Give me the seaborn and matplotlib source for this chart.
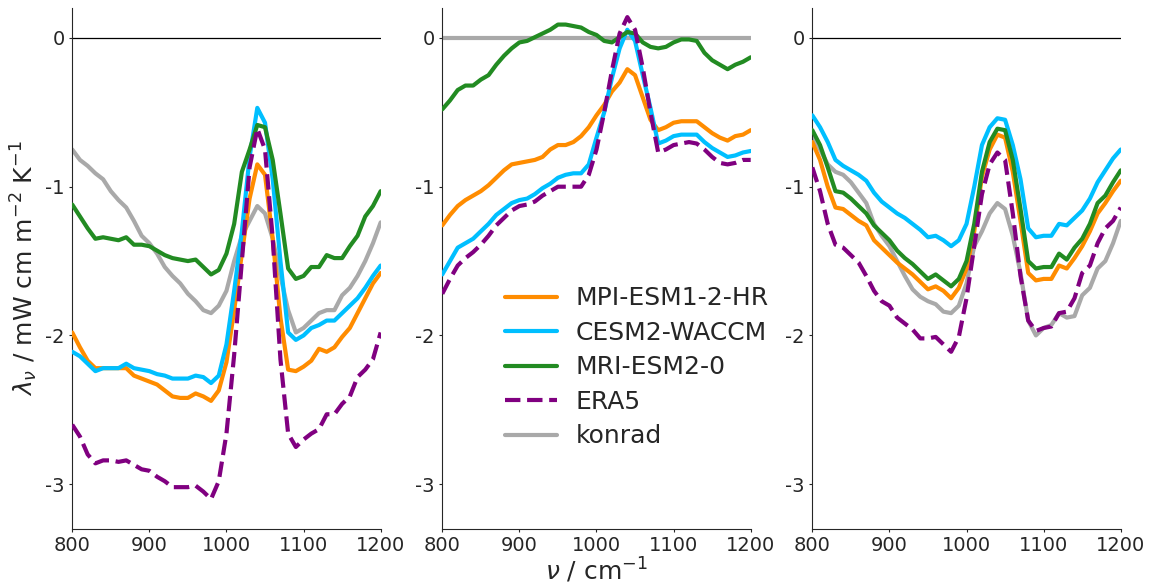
"""Spectral feedback by model, three panels."""

import matplotlib
matplotlib.use("Agg")
import matplotlib.pyplot as plt
import numpy as np
import seaborn as sns

# Wavenumber grid (cm^-1)
wavenumber = np.arange(800, 1201, 10)

# Panel 1
p1_mpi = [-1.98, -2.08, -2.17, -2.22, -2.22, -2.22, -2.22, -2.22, -2.27, -2.29, -2.31,
          -2.33, -2.37, -2.41, -2.42, -2.42, -2.39, -2.41, -2.44, -2.37, -2.18,
          -1.83, -1.45, -1.08, -0.85, -0.92, -1.35, -1.88, -2.23, -2.24, -2.21,
          -2.17, -2.09, -2.11, -2.08, -2.01, -1.95, -1.85, -1.75, -1.65, -1.58]
p1_cesm = [-2.11, -2.14, -2.19, -2.24, -2.22, -2.22, -2.22, -2.19, -2.22, -2.23, -2.24,
           -2.26, -2.27, -2.29, -2.29, -2.29, -2.27, -2.28, -2.32, -2.27, -2.06,
           -1.70, -1.30, -0.80, -0.47, -0.57, -0.95, -1.50, -1.98, -2.03, -2.00,
           -1.95, -1.93, -1.90, -1.90, -1.85, -1.80, -1.75, -1.68, -1.60, -1.53]
p1_mri = [-1.12, -1.20, -1.28, -1.35, -1.34, -1.35, -1.36, -1.34, -1.39, -1.39, -1.40,
          -1.43, -1.46, -1.48, -1.49, -1.50, -1.49, -1.54, -1.59, -1.56, -1.45,
          -1.25, -0.90, -0.75, -0.585, -0.60, -0.82, -1.18, -1.55, -1.62, -1.60,
          -1.54, -1.54, -1.46, -1.48, -1.48, -1.40, -1.33, -1.20, -1.13, -1.03]
p1_era5 = [-2.60, -2.68, -2.80, -2.86, -2.84, -2.84, -2.85, -2.84, -2.87, -2.90, -2.91,
           -2.95, -2.98, -3.02, -3.02, -3.02, -3.01, -3.05, -3.10, -2.98, -2.66,
           -2.13, -1.50, -0.87, -0.61, -0.75, -1.35, -2.16, -2.66, -2.75, -2.70,
           -2.66, -2.63, -2.53, -2.53, -2.46, -2.41, -2.28, -2.23, -2.16, -1.98]
p1_konrad = [-0.75, -0.82, -0.86, -0.91, -0.95, -1.03, -1.09, -1.14, -1.23, -1.33, -1.38,
             -1.45, -1.54, -1.60, -1.65, -1.72, -1.77, -1.83, -1.85, -1.80, -1.70,
             -1.50, -1.33, -1.23, -1.13, -1.18, -1.35, -1.60, -1.83, -1.98, -1.95,
             -1.90, -1.85, -1.83, -1.83, -1.73, -1.68, -1.60, -1.50, -1.38, -1.24]

# Panel 2
p2_mpi = [-1.26, -1.19, -1.13, -1.09, -1.06, -1.03, -0.99, -0.94, -0.89, -0.85, -0.84,
          -0.83, -0.82, -0.80, -0.75, -0.72, -0.72, -0.70, -0.66, -0.60, -0.52,
          -0.45, -0.36, -0.30, -0.21, -0.25, -0.40, -0.55, -0.62, -0.60, -0.57,
          -0.56, -0.56, -0.56, -0.60, -0.64, -0.67, -0.69, -0.66, -0.65, -0.62]
p2_cesm = [-1.59, -1.50, -1.41, -1.38, -1.35, -1.30, -1.25, -1.19, -1.15, -1.11, -1.09,
           -1.08, -1.05, -1.01, -0.98, -0.94, -0.92, -0.91, -0.91, -0.85, -0.67,
           -0.50, -0.27, -0.07, 0.055, -0.02, -0.25, -0.47, -0.71, -0.69, -0.66,
           -0.65, -0.65, -0.65, -0.70, -0.74, -0.77, -0.80, -0.79, -0.77, -0.76]
p2_mri = [-0.48, -0.42, -0.35, -0.32, -0.32, -0.28, -0.25, -0.18, -0.12, -0.07, -0.03,
          -0.02, 0.005, 0.03, 0.055, 0.09, 0.09, 0.08, 0.07, 0.04, 0.02,
          -0.02, -0.03, 0.005, 0.04, 0.03, -0.03, -0.06, -0.07, -0.06, -0.03,
          -0.01, -0.01, -0.02, -0.10, -0.15, -0.18, -0.21, -0.18, -0.16, -0.13]
p2_era5 = [-1.72, -1.62, -1.53, -1.48, -1.44, -1.39, -1.33, -1.26, -1.21, -1.16, -1.13,
           -1.12, -1.10, -1.06, -1.03, -1.00, -1.00, -1.00, -1.00, -0.92, -0.75,
           -0.50, -0.22, 0.03, 0.14, 0.055, -0.20, -0.50, -0.77, -0.75, -0.72,
           -0.71, -0.70, -0.71, -0.75, -0.80, -0.84, -0.85, -0.84, -0.82, -0.82]
p2_konrad = [0.0] * 41

# Panel 3
p3_mpi = [-0.70, -0.82, -1.00, -1.14, -1.15, -1.19, -1.23, -1.26, -1.36, -1.41, -1.46,
          -1.51, -1.55, -1.59, -1.64, -1.69, -1.67, -1.70, -1.75, -1.68, -1.55,
          -1.30, -0.93, -0.75, -0.65, -0.67, -0.90, -1.23, -1.58, -1.63, -1.62,
          -1.62, -1.53, -1.55, -1.48, -1.40, -1.30, -1.18, -1.11, -1.03, -0.96]
p3_cesm = [-0.52, -0.60, -0.70, -0.82, -0.86, -0.89, -0.92, -0.96, -1.04, -1.10, -1.14,
           -1.18, -1.21, -1.25, -1.29, -1.34, -1.33, -1.36, -1.40, -1.36, -1.25,
           -1.00, -0.72, -0.60, -0.54, -0.55, -0.72, -0.95, -1.28, -1.34, -1.33,
           -1.33, -1.25, -1.26, -1.21, -1.16, -1.08, -0.97, -0.89, -0.81, -0.75]
p3_mri = [-0.62, -0.72, -0.87, -1.03, -1.04, -1.08, -1.13, -1.18, -1.26, -1.31, -1.36,
          -1.43, -1.48, -1.52, -1.57, -1.62, -1.59, -1.63, -1.67, -1.62, -1.50,
          -1.25, -0.90, -0.70, -0.61, -0.62, -0.82, -1.15, -1.50, -1.55, -1.54,
          -1.54, -1.45, -1.49, -1.41, -1.35, -1.25, -1.11, -1.06, -0.97, -0.89]
p3_era5 = [-0.87, -1.03, -1.25, -1.39, -1.41, -1.46, -1.51, -1.60, -1.70, -1.77, -1.80,
           -1.88, -1.92, -1.96, -2.02, -2.02, -2.01, -2.06, -2.11, -2.01, -1.75,
           -1.40, -1.05, -0.85, -0.77, -0.82, -1.18, -1.60, -1.90, -1.97, -1.95,
           -1.94, -1.85, -1.84, -1.75, -1.58, -1.53, -1.38, -1.28, -1.23, -1.14]
p3_konrad = [-0.65, -0.75, -0.85, -0.90, -0.92, -0.97, -1.04, -1.11, -1.25, -1.33, -1.40,
             -1.50, -1.60, -1.69, -1.74, -1.77, -1.79, -1.84, -1.85, -1.80, -1.65,
             -1.40, -1.30, -1.18, -1.11, -1.15, -1.33, -1.58, -1.90, -2.00, -1.95,
             -1.93, -1.85, -1.88, -1.87, -1.73, -1.68, -1.55, -1.50, -1.38, -1.23]

labels = ["MPI-ESM1-2-HR", "CESM2-WACCM", "MRI-ESM2-0", "ERA5", "konrad"]
colors = ["darkorange", "deepskyblue", "forestgreen", "purple", "darkgray"]
styles = ["-", "-", "-", "--", "-"]
zorders = [3, 3, 3, 4, 2]

panels = [
    [p1_mpi, p1_cesm, p1_mri, p1_era5, p1_konrad],
    [p2_mpi, p2_cesm, p2_mri, p2_era5, p2_konrad],
    [p3_mpi, p3_cesm, p3_mri, p3_era5, p3_konrad],
]

sns.set_style("ticks")
plt.rcParams["axes.unicode_minus"] = False
plt.rcParams["font.family"] = ["DejaVu Sans"]

fig = plt.figure(figsize=(11.56, 5.86), dpi=100)
lefts = [0.0625, 0.3826, 0.7027]
axes = [fig.add_axes([l, 0.0976, 0.2668, 0.8884]) for l in lefts]

for ax, series in zip(axes, panels):
    ax.axhline(0, color="black", lw=0.9, zorder=1)
    for vals, lab, col, ls, zo in zip(series, labels, colors, styles, zorders):
        sns.lineplot(x=wavenumber, y=vals, color=col, lw=3, linestyle=ls,
                     label=lab, zorder=zo, ax=ax, legend=False)
    ax.set_xlim(800, 1200)
    ax.set_ylim(-3.3, 0.2)
    ax.set_xticks([800, 900, 1000, 1100, 1200])
    ax.set_yticks([0, -1, -2, -3])
    ax.set_yticklabels(["0", "-1", "-2", "-3"])
    ax.tick_params(labelsize=14, length=2, width=0.8)
    sns.despine(ax=ax)

axes[0].set_ylabel(r"$\lambda_\nu$ / mW cm m$^{-2}$ K$^{-1}$", fontsize=18)
axes[1].set_xlabel(r"$\nu$ / cm$^{-1}$", fontsize=18, labelpad=0)

handles, _ = axes[1].get_legend_handles_labels()
axes[1].legend(handles=handles, labels=labels, loc="upper left",
               bbox_to_anchor=(0.17, 0.485), frameon=False, fontsize=18,
               handlelength=2.1, handletextpad=0.75, labelspacing=0.42,
               borderaxespad=0)

plt.savefig("out.png", dpi=100)
print("Generated: out.png")
